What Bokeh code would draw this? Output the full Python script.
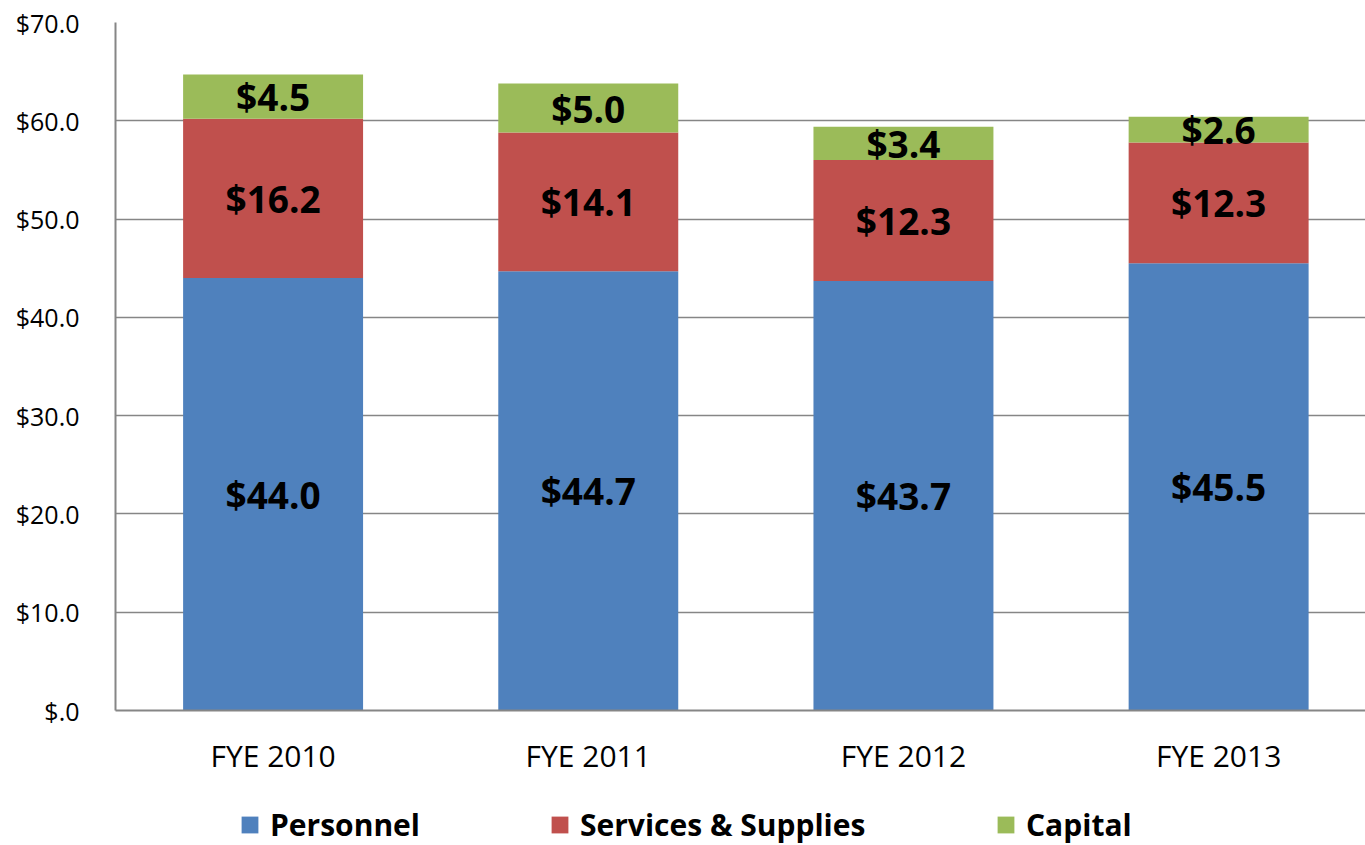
from bokeh.plotting import figure
from bokeh.layouts import column
from bokeh.models import ColumnDataSource, Range1d, FixedTicker, Legend, LegendItem
from bokeh.core.properties import value
from bokeh.embed import file_html
from bokeh.resources import INLINE

categories = ["FYE 2010", "FYE 2011", "FYE 2012", "FYE 2013"]
personnel = [44.0, 44.7, 43.7, 45.5]
services = [16.2, 14.1, 12.3, 12.3]
capital = [4.5, 5.0, 3.4, 2.6]
series_names = ["Personnel", "Services & Supplies", "Capital"]
colors = ["#4F81BD", "#C0504D", "#9BBB59"]
y_ticks = [0, 10, 20, 30, 40, 50, 60, 70]
y_tick_labels = ["$.0", "$10.0", "$20.0", "$30.0", "$40.0", "$50.0", "$60.0", "$70.0"]

xpos = [i + 0.5 for i in range(len(categories))]
FONT = "Open Sans"
FRAME_LEFT = 115

p = figure(width=1365, height=800, output_backend="svg", toolbar_location=None,
           x_range=Range1d(0, 3.966), y_range=Range1d(0, 70),
           min_border_left=FRAME_LEFT, min_border_right=0, min_border_top=22, min_border_bottom=90)
p.outline_line_color = None
p.background_fill_color = "white"

series = [personnel, services, capital]
bottoms = [0.0] * len(categories)
for name, vals, col in zip(series_names, series, colors):
    tops = [b + v for b, v in zip(bottoms, vals)]
    mids = [(b + t) / 2 for b, t in zip(bottoms, tops)]
    src = ColumnDataSource(dict(x=xpos, bottom=bottoms, top=tops, mid=mids,
                                label=["$%.1f" % v for v in vals]))
    p.vbar(x="x", bottom="bottom", top="top", width=0.571, source=src,
           fill_color=col, line_color=None)
    p.text(x="x", y="mid", text="label", source=src, text_align="center",
           text_baseline="middle", text_font=value(FONT), text_font_style="bold",
           text_font_size="37px", text_color="black")
    bottoms = tops

# axes
p.xaxis.ticker = FixedTicker(ticks=xpos)
p.xaxis.major_label_overrides = {x: c for x, c in zip(xpos, categories)}
p.yaxis.ticker = FixedTicker(ticks=y_ticks)
p.yaxis.major_label_overrides = {t: l for t, l in zip(y_ticks, y_tick_labels)}
for ax in (p.xaxis, p.yaxis):
    ax.axis_line_color = "#868686"
    ax.axis_line_width = 2
    ax.major_tick_line_color = None
    ax.minor_tick_line_color = None
    ax.major_label_text_font = FONT
    ax.major_label_text_color = "black"
p.yaxis.major_label_text_font_size = "25px"
p.yaxis.major_label_standoff = 30
p.xaxis.major_label_text_font_size = "30px"
p.xaxis.major_label_standoff = 18

p.xgrid.grid_line_color = None
p.ygrid.grid_line_color = "#868686"
p.ygrid.grid_line_width = 1.5

# legend strip (its frame is aligned with the chart's frame by the column layout)
lg = figure(width=1365, height=45, output_backend="svg", toolbar_location=None,
            x_range=Range1d(0, 1), y_range=Range1d(0, 1),
            x_axis_type=None, y_axis_type=None,
            min_border_left=FRAME_LEFT, min_border_right=0, min_border_top=0, min_border_bottom=0)
lg.outline_line_color = None
lg.xgrid.grid_line_color = None
lg.ygrid.grid_line_color = None
legend_x = [239, 549, 995]
for name, col, lx in zip(series_names, colors, legend_x):
    # off-screen stand-in glyph, only used to draw the legend swatch
    r = lg.vbar(x=[-5], top=[0], width=0.1, fill_color=col, line_color=None)
    leg = Legend(items=[LegendItem(label=name, renderers=[r])], location=(lx - FRAME_LEFT, 0),
                 label_text_font=FONT, label_text_font_style="bold",
                 label_text_font_size="30px", label_text_color="black",
                 glyph_width=21, glyph_height=21, label_standoff=10,
                 padding=0, margin=0, border_line_color=None, background_fill_alpha=0)
    lg.add_layout(leg, "center")

open("out.html", "w").write(file_html(column(p, lg), INLINE))
